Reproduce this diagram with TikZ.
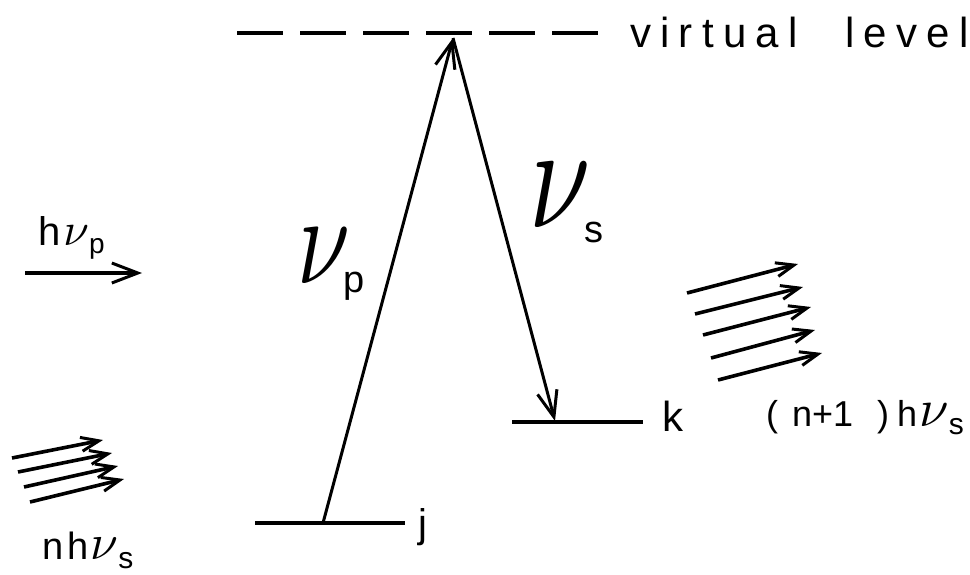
\documentclass[tikz,border=0pt]{standalone}
\usepackage{fontspec}
\setmainfont{Liberation Sans}
\newfontfamily\widefont[LetterSpace=22]{Liberation Sans}
\usepackage{graphicx}
\usetikzlibrary{arrows.meta}
\newcommand{\fs}[1]{\fontsize{#1}{#1}\selectfont}
\newcommand{\bignu}[2]{\scalebox{#1}[#2]{\normalsize$\nu$}}
\begin{document}
\begin{tikzpicture}[x=1pt,y=-1pt,
  lvl/.style={line width=3.3pt},
  arr/.style={line width=3pt,-{Straight Barb[length=26pt,width=20pt,line width=3pt]}},
  ray/.style={line width=3.6pt,-{Straight Barb[length=18pt,width=14pt,line width=3pt]}},
  lbl/.style={inner sep=0pt,anchor=base west}]
\useasboundingbox (0,0) rectangle (970,574);
% virtual level
\coordinate (v1) at (237,33);
\coordinate (v2) at (599,33);
\draw[lvl,dash pattern=on 46pt off 17pt] (v1) -- (v2);
\node[lbl] (vtxt) at (630,47) {\widefont\fs{42}virtual};
\node[lbl] (ltxt) at (845,47) {\widefont\fs{42}level};
% levels
\coordinate (jl) at (255,523);
\coordinate (jr) at (405,523);
\coordinate (jp) at (323,523);
\coordinate (kl) at (512,422);
\coordinate (kr) at (643,422);
\coordinate (kp) at (555,421);
\coordinate (apex) at (453,38);
\draw[lvl] (jl) -- (jr);
\draw[lvl] (kl) -- (kr);
\node[lbl] (jtxt) at (418,537) {\fs{40}j};
\node[lbl] (ktxt) at (662,431) {\fs{42}k};
% transitions
\draw[arr] (jp) -- (apex);
\draw[arr] (apex) -- (kp);
\node[lbl] (nup) at (297,283) {\bignu{9.5}{12.8}};
\node[lbl] (pp) at (343,292) {\fs{38}p};
\node[lbl] (nus) at (529,227) {\bignu{11}{15}};
\node[lbl] (ss) at (584,242) {\fs{38}s};
% incoming pump photon
\coordinate (pa) at (25,273);
\coordinate (pb) at (142,273);
\draw[arr,line width=3.3pt] (pa) -- (pb);
\node[lbl] (hnup) at (38,245) {\fs{40}h\hspace{3pt}\bignu{4.6}{4.6}\raisebox{-8pt}{\fs{28}p}};
% stokes photons in
\coordinate (a1) at (12,458); \coordinate (b1) at (103,440);
\coordinate (a2) at (18,472); \coordinate (b2) at (112,453);
\coordinate (a3) at (24,487); \coordinate (b3) at (118,466);
\coordinate (a4) at (30,502); \coordinate (b4) at (124,479);
\foreach \i in {1,...,4} {\draw[ray] (a\i) -- (b\i);}
\node[lbl] (nhnus) at (42,559) {\fs{38}n\hspace{4pt}h\hspace{2pt}\bignu{5}{5}\raisebox{-9pt}{\fs{30}s}};
% stokes photons out
\coordinate (c1) at (687,293); \coordinate (d1) at (798,264);
\coordinate (c2) at (695,314); \coordinate (d2) at (803,287);
\coordinate (c3) at (703,335); \coordinate (d3) at (811,307);
\coordinate (c4) at (711,358); \coordinate (d4) at (815,330);
\coordinate (c5) at (718,380); \coordinate (d5) at (822,353);
\foreach \i in {1,...,5} {\draw[ray] (c\i) -- (d\i);}
\node[lbl] (n1hnus) at (766,426) {\fs{36}(\hspace{14pt}n+1\hspace{24pt})\hspace{8pt}h\hspace{2pt}\bignu{5.3}{5.3}\raisebox{-8pt}{\fs{30}s}};
\end{tikzpicture}
\end{document}
